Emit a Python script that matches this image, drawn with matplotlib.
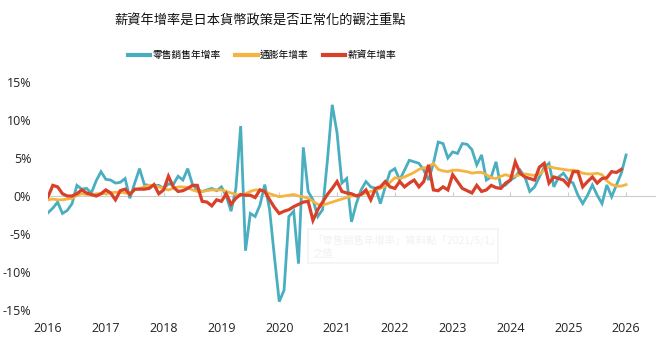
import numpy as np
import matplotlib
matplotlib.use('Agg')
import matplotlib.pyplot as plt

plt.rcParams['font.family'] = ['Noto Sans CJK TC', 'DejaVu Sans']

TITLE = '薪資年增率是日本貨幣政策是否正常化的觀注重點'
NAMES = ['零售銷售年增率', '通膨年增率', '薪資年增率']
COLORS = ['#4aaec1', '#f5b43f', '#d8402a']
YEARS = list(range(2016, 2027))
START_YEAR = 2016

# monthly values from Jan 2016
retail = [-2.2, -1.6, -0.8, -2.3, -1.9, -1.0, 1.4, 0.9, 1.0, 0.4, 2.0, 3.2,
          2.2, 2.1, 1.7, 1.8, 2.3, -0.3, 1.7, 3.6, 1.5, 1.4, 1.4, 1.4,
          1.0, 1.6, 1.5, 2.6, 2.1, 3.6, 1.5, 0.8, 0.6, 0.8, 1.0, 0.7,
          1.2, 0.0, -2.0, 1.0, 9.2, -7.2, -2.3, -2.7, -1.2, 1.5, -1.8, -8.0,
          -13.9, -12.4, -2.7, -2.0, -8.9, 6.4, 0.6, -0.5, -2.7, -1.8, 4.7, 12.0,
          8.3, 1.7, 2.3, -3.4, -1.0, 0.8, 1.9, 1.2, 1.0, -1.0, 1.2, 3.2,
          3.6, 2.1, 3.4, 4.7, 4.5, 4.3, 3.4, 2.1, 4.3, 7.1, 6.9, 5.0,
          5.8, 5.6, 6.9, 6.8, 6.1, 4.1, 5.4, 2.1, 2.5, 4.5, 1.2, 1.45,
          2.1, 2.5, 3.4, 2.5, 0.6, 1.2, 2.5, 3.8, 4.3, 1.2, 2.5, 3.0,
          2.1, 1.7, 0.1, -1.0, 0.1, 1.45, 0.1, -1.0, 1.45, -0.1, 1.45, 3.0,
          5.4]

cpi = [-0.5, -0.4, -0.5, -0.5, -0.4, -0.3, 0.1, 0.3, 0.2, 0.1, 0.3, 0.3,
       0.3, 0.4, 0.5, 0.5, 0.4, 0.3, 0.8, 1.0, 1.2, 1.4, 1.4, 1.2,
       1.0, 0.8, 1.0, 1.2, 1.2, 1.1, 0.8, 0.6, 0.6, 0.7, 0.8, 0.8,
       0.8, 0.6, 0.4, 0.2, 0.1, 0.3, 0.6, 0.8, 0.8, 0.6, 0.3, 0.1,
       -0.1, 0.0, 0.1, 0.2, 0.0, -0.1, -0.3, -0.7, -1.1, -1.2, -1.0, -0.8,
       -0.6, -0.4, -0.2, 0.0, 0.1, 0.2, 0.4, 0.6, 0.8, 1.0, 1.3, 1.8,
       2.4, 2.3, 2.5, 2.8, 3.1, 3.5, 3.7, 3.8, 4.3, 3.5, 3.3, 3.2,
       3.4, 3.4, 3.3, 3.2, 3.0, 3.1, 3.1, 2.8, 2.4, 2.3, 2.6, 2.8,
       2.6, 2.6, 2.8, 2.9, 2.8, 2.7, 2.9, 3.4, 3.9, 3.7, 3.6, 3.5,
       3.4, 3.4, 3.3, 3.0, 2.9, 2.9, 3.0, 2.8, 2.0, 1.5, 1.3, 1.3,
       1.5]

wages = [-0.1, 1.4, 1.2, 0.3, 0.0, 0.0, 0.3, 0.8, 0.4, 0.2, 0.0, 0.3,
         0.8, 0.4, -0.5, 0.7, 0.9, 0.2, 0.9, 0.9, 0.9, 1.0, 1.5, 0.3,
         0.8, 2.6, 1.2, 0.6, 0.7, 1.0, 1.4, 1.4, -0.7, -0.8, -1.3, -0.5,
         -0.7, 0.3, -1.1, -0.3, 0.2, 0.1, 0.1, -0.2, 0.8, 0.6, -0.5, -1.5,
         -2.3, -2.0, -1.8, -1.4, -1.1, -0.8, -0.7, -3.2, -1.8, -0.8, 0.2, 1.0,
         1.9, 0.6, 0.4, 0.3, 0.0, 0.2, 0.8, -0.5, 1.0, 1.2, 1.9, 1.2,
         1.0, 1.9, 1.2, 1.7, 2.1, 1.2, 1.9, 4.1, 0.8, 0.7, 1.2, 0.8,
         2.8, 1.9, 1.0, 0.7, 0.4, 1.4, 0.6, 0.8, 1.4, 1.1, 1.0, 1.7,
         2.1, 4.5, 3.0, 2.5, 2.3, 2.1, 3.8, 4.3, 1.7, 2.5, 2.3, 2.1,
         1.4, 3.2, 3.2, 1.2, 1.9, 2.5, 1.7, 2.3, 2.4, 3.2, 3.1, 3.5]


def months(vals):
    return START_YEAR + np.arange(len(vals)) / 12.0


fig = plt.figure(figsize=(6.66, 3.48), dpi=100)
ax = fig.add_axes([48 / 666, 1 - 310 / 348, (655 - 48) / 666, (310 - 82) / 348])

for vals, name, col, lw in zip([retail, cpi, wages], NAMES, COLORS, [2.0, 2.0, 2.3]):
    ax.plot(months(vals), vals, color=col, lw=lw, label=name, solid_joinstyle='miter')

ax.set_xlim(2016, 2026.5)
ax.set_ylim(-15, 15)
ax.set_yticks([-15, -10, -5, 0, 5, 10, 15])
ax.set_yticklabels(['%d%%' % v for v in [-15, -10, -5, 0, 5, 10, 15]])
ax.set_xticks(YEARS)
ax.set_xticklabels([str(y) for y in YEARS])
for s in ax.spines.values():
    s.set_visible(False)
ax.tick_params(length=0, labelsize=9, colors='#222222')
ax.tick_params(axis='y', pad=12)
ax.tick_params(axis='x', pad=9)
for lab in ax.get_xticklabels() + ax.get_yticklabels():
    lab.set_family(['Open Sans', 'DejaVu Sans'])

# zero axis with small year ticks
zero = ax.secondary_xaxis(0.5)
zero.set_xticks(YEARS)
zero.tick_params(length=3, color='#cccccc', labelbottom=False, labeltop=False)
for s in zero.spines.values():
    s.set_color('#cccccc')
    s.set_linewidth(0.8)
zero.set_zorder(0)

# faint leftover tooltip box
fig.patches.append(plt.Rectangle((308 / 666, 1 - 263 / 348), 190 / 666, 34 / 348,
                                 transform=fig.transFigure, fill=False,
                                 edgecolor='#f4f4f4', lw=1.2))
fig.text(312 / 666, 1 - 240 / 348, '「零售銷售年增率」資料點「2021/5/1」', fontsize=7.5,
         color='#f1f1f1', va='center')
fig.text(312 / 666, 1 - 254 / 348, '之值', fontsize=7.5, color='#f1f1f1', va='center')

fig.text(260 / 666, 1 - 21 / 348, TITLE, fontsize=9.5, ha='center', va='center', color='#111111')

leg = fig.legend(loc='center', bbox_to_anchor=(262 / 666, 1 - 55 / 348), ncol=3, frameon=False,
                 fontsize=7, handlelength=2.3, handletextpad=0.2, columnspacing=1.5)
for line in leg.get_lines():
    line.set_linewidth(3)

fig.savefig('out.png', dpi=100)
